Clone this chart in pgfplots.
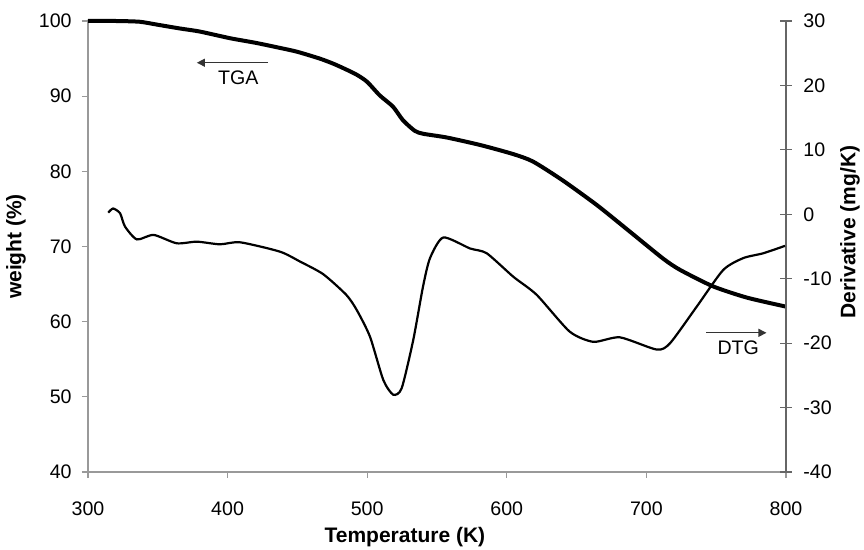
\documentclass[border=0pt]{standalone}
\usepackage{pgfplots}
\usepackage{pgfplotstable}
\pgfplotsset{compat=1.18}
\usepackage{fontspec}
\setmainfont{Liberation Sans}
\usetikzlibrary{arrows.meta}

% TGA: weight loss (%) vs temperature (K)
\pgfplotstableread{
T      w
300    100.0
320    100.0
337    99.9
350    99.5
366    99.0
380    98.6
402    97.7
420    97.1
438    96.4
450    95.9
466    95.0
476    94.3
485.5  93.5
493    92.8
500    91.9
509    90.1
518.5  88.6
525.6  86.8
534    85.4
540    85.0
557    84.5
581    83.5
604.5  82.3
618.8  81.3
640    78.8
664.6  75.5
688    72.0
711.9  68.4
724    66.9
747.7  64.7
772    63.2
800    62.0
}\tgadata

% DTG: derivative (mg/K) vs temperature (K)
\pgfplotstableread{
T      d
314.5  0.25
318    0.9
323    0.15
326.5  -1.9
335    -3.9
347    -3.2
363.5  -4.5
378    -4.25
394.5  -4.66
409    -4.35
437.5  -5.8
452    -7.35
468.5  -9.3
485    -12.5
492.5  -14.85
502    -19.0
511.5  -25.7
518.6  -28.0
524.7  -27.0
533    -19.5
540    -11.2
545    -6.8
554.5  -3.6
573.6  -5.3
585.6  -6.05
604.7  -9.7
621.4  -12.5
645    -18.2
662    -19.8
681    -19.1
707.4  -21.0
717    -20.0
736    -14.35
755    -8.65
769.4  -6.8
783.7  -6.05
799.3  -4.9
}\dtgdata

\begin{document}
\begin{tikzpicture}[font=\fontsize{9.8}{11.5}\selectfont]
\path[use as bounding box] (-44pt,-39pt) rectangle (388pt,236pt);

\begin{axis}[
    at={(0,0)}, anchor=south west,
    scale only axis, width=349pt, height=225.5pt,
    xmin=300, xmax=800, ymin=40, ymax=100,
    axis x line*=bottom, axis y line*=left,
    xtick={300,400,...,800}, ytick={40,50,...,100},
    tick align=outside, major tick length=3pt,
    axis line style={draw=black!40, line width=0.6pt},
    major tick style={draw=black!40, line width=0.6pt},
    /pgf/number format/assume math mode=true,
    xticklabel style={anchor=base, inner sep=0pt, yshift=-19pt},
    yticklabel style={anchor=east, inner sep=0pt, xshift=-5pt},
    xlabel={\fontsize{10.5}{12.5}\selectfont\bfseries Temperature (K)},
    ylabel={\fontsize{10.5}{12.5}\selectfont\bfseries weight (\%)},
    every axis x label/.style={at={(axis description cs:0.454,-0.144)}, anchor=center},
    every axis y label/.style={at={(axis description cs:-0.103,0.5)}, rotate=90, anchor=center},
    clip=false,
]
\addplot[black, line width=2pt, smooth, tension=0.4] table[x=T, y=w] {\tgadata};
\draw[black!80, line width=0.6pt, -{Triangle[length=4pt,width=4pt]}]
    (axis cs:429,94.45) -- (axis cs:378,94.45);
\node at (axis cs:407.7,92.4) {TGA};
\end{axis}

\begin{axis}[
    at={(0,0)}, anchor=south west,
    scale only axis, width=349pt, height=225.5pt,
    xmin=300, xmax=800, ymin=-40, ymax=30,
    axis x line=none, axis y line*=right,
    ytick={-40,-30,...,30},
    tick align=center, major tick length=6pt,
    axis line style={draw=black!60, line width=0.6pt},
    major tick style={draw=black!60, line width=0.6pt},
    /pgf/number format/assume math mode=true,
    yticklabel style={anchor=west, inner sep=0pt, xshift=5.5pt},
    ylabel={\fontsize{10.5}{12.5}\selectfont\bfseries Derivative (mg/K)},
    every axis y label/.style={at={(axis description cs:1.0917,0.532)}, rotate=90, anchor=center},
    clip=false,
]
\addplot[black, line width=1.1pt, smooth, tension=0.4] table[x=T, y=d] {\dtgdata};
\draw[black!80, line width=0.6pt, -{Triangle[length=4pt,width=4pt]}]
    (axis cs:743,-18.4) -- (axis cs:786,-18.4);
\node at (axis cs:765.8,-20.7) {DTG};
\end{axis}
\end{tikzpicture}
\end{document}
